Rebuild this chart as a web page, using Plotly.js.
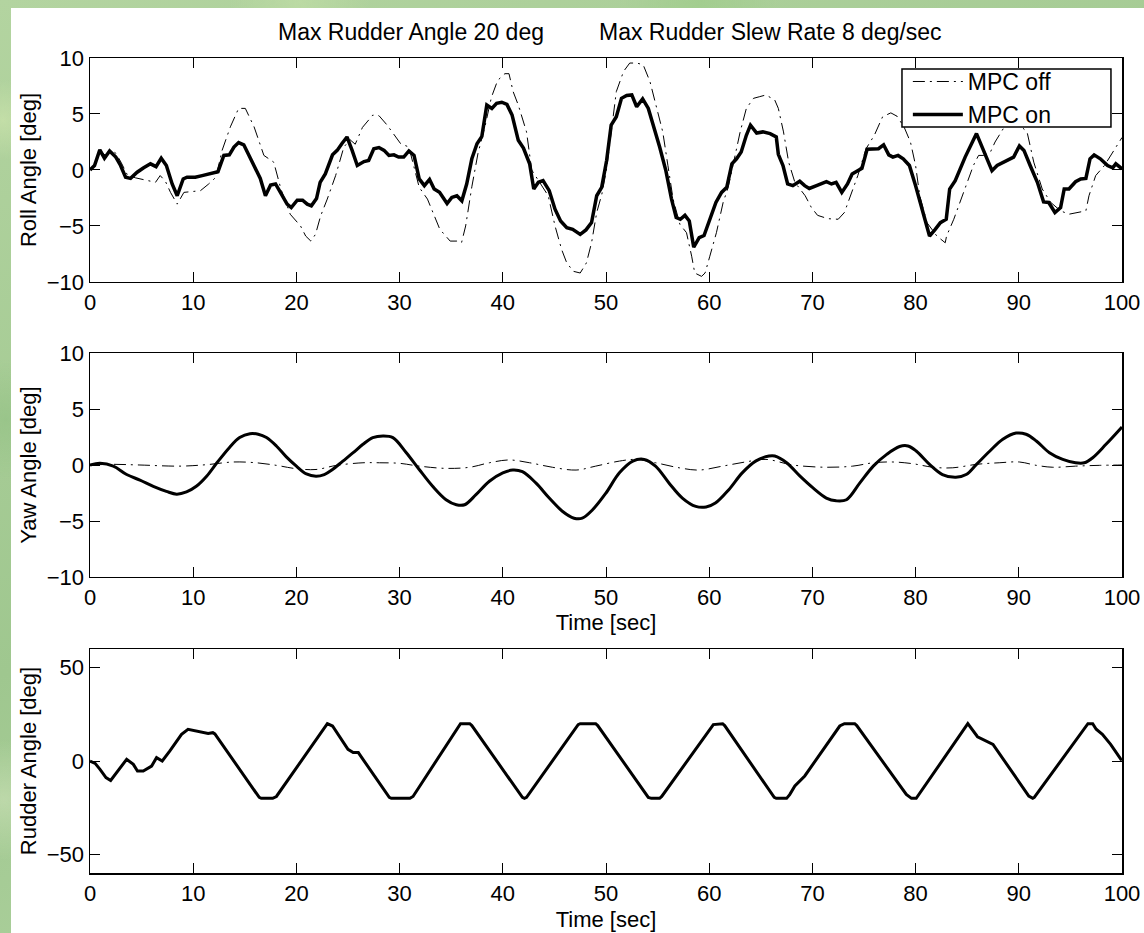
<!DOCTYPE html>
<html>
<head>
<meta charset="utf-8">
<script src="https://cdn.plot.ly/plotly-3.0.1.min.js"></script>
<style>
  html, body { margin: 0; padding: 0; width: 1144px; height: 933px; overflow: hidden; }
  body {
    background-color: #a9cd98;
    background-image:
      radial-gradient(circle at 3px 120px, rgba(200,225,170,0.8) 0, rgba(200,225,170,0) 40px),
      radial-gradient(circle at 6px 420px, rgba(150,195,135,0.8) 0, rgba(150,195,135,0) 60px),
      radial-gradient(circle at 300px 2px, rgba(190,220,165,0.8) 0, rgba(190,220,165,0) 70px),
      radial-gradient(circle at 700px 3px, rgba(160,205,140,0.8) 0, rgba(160,205,140,0) 80px),
      radial-gradient(circle at 4px 800px, rgba(195,220,175,0.8) 0, rgba(195,220,175,0) 60px),
      linear-gradient(160deg, #b3d4a0, #9fc78f 50%, #b6d7a6);
  }
  #chart { position: absolute; left: 11px; top: 8px; width: 1134px; height: 925px; background: #fff; }
</style>
</head>
<body>
<div id="chart"></div>
<script>
// ---------------- Data ----------------
const rollTimeOn = [0,0.44,0.95,1.4,1.9,2.5,2.96,3.45,3.93,4.57,5.2,5.86,6.4,6.9,7.4,7.96,8.45,9.03,9.4,10.2,10.87,11.7,12.4,12.97,13.5,13.95,14.4,14.9,15.55,16.05,16.5,17.0,17.5,17.98,18.6,19.1,19.5,20.08,20.6,21.05,21.45,21.95,22.3,22.8,23.5,23.95,24.4,24.9,25.4,25.9,26.55,27.0,27.5,28.0,28.5,28.97,29.45,29.9,30.4,30.9,31.4,31.9,32.4,32.9,33.35,33.87,34.6,35.06,35.55,36.03,36.5,37.0,37.5,37.97,38.45,38.94,39.4,39.9,40.4,40.9,41.5,42.0,42.6,43.0,43.45,43.9,44.5,45.06,45.6,46.2,46.77,47.5,48.06,48.6,49.1,49.58,50.06,50.5,51.0,51.5,52.0,52.5,52.97,53.55,54.1,54.6,55.2,55.8,56.35,56.8,57.2,57.65,58.07,58.5,59.03,59.5,60.06,60.65,61.2,61.7,62.2,62.65,63.1,63.6,64.0,64.6,65.2,65.9,66.5,66.7,67.15,67.6,68.1,68.77,69.25,69.7,70.4,71.36,71.85,72.3,72.85,73.4,73.85,74.8,75.3,75.9,76.4,76.9,77.4,77.8,78.3,78.8,79.4,80.0,80.76,81.35,81.9,82.4,82.97,83.3,83.84,84.8,85.9,86.6,87.4,87.9,88.9,89.5,90.06,90.5,91.1,91.8,92.4,92.9,93.5,94.05,94.4,94.86,95.5,96.0,96.5,96.9,97.3,97.9,98.6,99.1,99.4,99.9,100];
const rollOn = [0,0.4,1.8,1.05,1.7,1.15,0.4,-0.65,-0.75,-0.2,0.2,0.55,0.3,1.05,0.4,-1.25,-2.3,-0.8,-0.65,-0.65,-0.5,-0.27,-0.15,1.3,1.35,2.05,2.45,2.25,1.0,0.1,-0.75,-2.3,-1.35,-1.25,-2.3,-3.05,-3.35,-2.7,-2.7,-3.05,-3.2,-2.55,-1.1,-0.35,1.35,1.75,2.35,2.95,1.75,0.4,0.75,0.85,1.9,2.0,1.75,1.3,1.35,1.15,1.15,1.7,1.3,-0.8,-1.4,-0.85,-1.7,-2.0,-3.0,-2.45,-2.3,-2.75,-1.25,1.0,2.35,3.0,5.8,5.5,5.95,6.05,5.85,4.9,2.65,1.95,0.55,-1.7,-1.1,-0.95,-1.85,-3.5,-4.55,-5.15,-5.3,-5.75,-5.35,-4.7,-2.3,-1.55,0.85,4.0,4.75,6.4,6.65,6.7,5.65,6.35,5.5,4.0,2.05,-0.06,-2.6,-4.25,-4.4,-4.05,-4.55,-6.9,-6.05,-5.85,-4.4,-2.9,-2.0,-1.55,0.55,1.0,1.6,3.1,4.0,3.3,3.4,3.25,2.95,1.4,0.4,-1.25,-1.4,-1.0,-1.4,-1.65,-1.4,-1.05,-1.25,-1.1,-2.0,-1.25,-0.35,0.15,1.85,1.85,1.9,2.25,1.35,1.15,1.3,1.0,0.4,-1.4,-4.1,-5.9,-5.3,-4.7,-4.4,-1.7,-0.95,1.15,3.25,1.75,-0.06,0.4,0.85,1.15,2.15,1.75,0.4,-1.1,-2.85,-2.9,-3.8,-3.35,-1.7,-1.7,-1.05,-0.8,-0.75,1.0,1.35,1.0,0.4,0.2,0.55,0.1,0.1];

const rollTimeOff = [0,0.5,1.0,1.5,2.0,2.5,3.0,3.6,4.4,5.2,6.35,6.8,7.3,7.8,8.45,9.1,9.75,10.7,11.5,12.2,12.8,13.6,14.4,15.05,15.9,16.85,17.8,18.5,19.4,20.4,20.9,21.4,21.85,22.35,22.99,23.8,24.6,25.2,25.7,26.4,27.4,28.0,28.8,30.1,30.9,31.9,32.7,33.6,33.9,34.9,35.55,36.0,36.4,37.0,37.6,38.3,38.9,39.5,40.2,40.6,41.0,41.5,42.3,42.8,44.4,45.06,45.7,46.2,46.84,47.5,48.1,48.6,49.1,49.6,50.06,50.55,51.0,51.7,52.3,52.97,53.6,54.26,54.9,55.5,56.0,56.5,57.16,57.8,58.3,58.6,59.26,59.6,60.06,60.7,61.35,61.84,62.3,63.0,63.6,64.3,64.9,65.5,66.35,66.7,67.2,67.7,68.3,69.3,69.9,70.5,71.5,72.5,73.1,73.7,74.4,75.2,76.0,76.8,77.6,78.2,78.9,79.5,80.0,80.4,81.1,82.06,82.87,83.0,83.7,84.65,85.6,86.1,86.6,87.25,87.7,88.5,89.3,90.2,90.8,91.45,92.27,93.1,94.05,94.86,95.67,96.5,96.8,97.45,98.3,98.9,99.9,100];
const rollOff = [0,0.5,1.7,1.3,1.8,1.5,0.7,-0.4,-0.7,-0.87,-1.1,-0.5,-1.0,-2.0,-3.05,-2.0,-1.95,-1.85,-1.25,-0.65,1.75,3.85,5.5,5.5,3.85,1.3,0.7,-1.7,-3.95,-5.0,-5.9,-6.35,-5.75,-4.1,-2.6,-0.5,2.05,2.7,2.3,3.8,4.9,4.85,4.0,2.35,2.05,-1.55,-2.6,-4.55,-5.3,-6.35,-6.35,-6.5,-5.0,-1.5,1.5,4.0,6.5,8.0,8.6,8.6,7.0,5.8,3.4,0.0,-2.3,-5.0,-7.1,-8.3,-9.05,-9.2,-8.3,-6.5,-3.8,-2.15,0.1,3.7,7.0,8.8,9.55,9.55,9.4,7.9,5.5,3.4,0.4,-2.6,-4.85,-5.6,-7.7,-9.2,-9.5,-9.2,-7.7,-5.6,-2.9,-1.55,0.4,3.4,5.5,6.4,6.55,6.7,6.25,5.5,3.4,0.7,-1.1,-2.3,-3.35,-4.05,-4.35,-4.4,-3.8,-2.3,-0.5,1.9,3.1,4.75,5.1,4.8,3.8,2.5,0.4,-2.3,-4.7,-5.9,-6.5,-5.9,-4.4,-2.0,0.4,1.3,1.3,1.6,2.5,3.7,4.1,3.9,3.4,0.7,-1.7,-2.9,-3.65,-3.95,-3.8,-3.65,-2.3,-0.5,0.4,1.3,2.8,2.9];

const yawTimeOn = [0,0.97,2.26,3.55,4.84,6.13,7.4,8.4,9.35,10.3,11.3,12.3,13.5,14.5,15.5,16.3,17.1,18.06,19.0,20.0,20.97,21.9,22.7,23.5,24.5,25.5,26.45,27.4,28.4,29.35,30.65,31.9,33.2,34.5,35.5,36.3,37.4,38.7,40.0,40.97,41.9,43.2,44.5,45.8,46.9,47.7,48.7,50.0,51.3,52.6,53.7,54.8,56.1,57.4,58.7,59.7,60.6,61.9,63.2,64.5,65.8,66.35,67.5,68.8,70.06,71.35,72.3,73.3,74.6,75.9,77.2,78.45,79.26,80.06,81.35,82.6,83.9,84.9,85.9,87.2,88.45,89.74,90.7,91.7,92.97,94.26,95.5,96.35,97.16,98.45,100];
const yawOn = [0,0.15,-0.1,-0.85,-1.35,-1.9,-2.35,-2.6,-2.4,-1.9,-1.0,0.2,1.55,2.45,2.8,2.75,2.45,1.7,0.75,-0.1,-0.8,-1.0,-0.85,-0.4,0.35,1.1,1.85,2.45,2.6,2.45,1.1,-0.4,-1.9,-3.1,-3.55,-3.55,-2.65,-1.45,-0.7,-0.45,-0.6,-1.6,-2.95,-4.15,-4.75,-4.75,-4.0,-2.5,-0.7,0.35,0.5,-0.1,-1.6,-2.95,-3.7,-3.75,-3.4,-2.2,-0.7,0.35,0.8,0.8,0.2,-1.0,-2.05,-2.95,-3.2,-3.1,-1.6,-0.1,0.95,1.65,1.7,1.25,0.06,-0.85,-1.1,-0.85,0.06,1.25,2.3,2.85,2.75,2.15,1.1,0.5,0.2,0.2,0.65,1.85,3.4];

const yawTimeOff = [0,2.26,4.84,8.7,11.3,13.9,16.1,18.06,20.0,21.9,23.9,26.45,28.06,30.0,31.9,34.5,36.8,38.7,40.6,42.6,44.8,47.1,49.0,51.3,52.9,54.8,57.1,59.0,61.3,63.5,65.5,68.1,71.35,73.9,75.9,77.8,79.7,81.7,83.6,85.9,88.1,90.06,91.7,93.3,95.5,97.8,100];
const yawOff = [0,0.06,0,-0.1,0.03,0.27,0.2,-0.03,-0.33,-0.4,-0.03,0.2,0.2,0.15,-0.1,-0.3,-0.2,0.2,0.45,0.2,-0.2,-0.45,-0.1,0.35,0.5,0.2,-0.25,-0.45,-0.1,0.27,0.5,0,-0.2,-0.1,0.2,0.27,0.12,-0.2,-0.25,0.06,0.2,0.27,-0.03,-0.2,-0.1,-0.03,0];

const rudderTime = [0,0.5,0.97,1.55,2.0,2.6,3.55,4.2,4.6,5.16,5.97,6.45,7.0,7.74,8.87,9.5,10.3,11.45,11.9,12.1,16.4,16.6,17.7,18.06,23.0,23.5,25.0,25.5,26.0,29.0,29.2,31.0,31.3,35.9,36.8,37.0,41.9,42.1,42.3,47.3,47.5,49.0,49.2,54.1,54.4,55.2,55.4,60.4,61.3,61.5,66.3,66.5,67.5,67.8,68.3,68.8,69.26,72.65,73.1,74.1,74.3,79.1,79.6,80.06,85.06,86.0,86.5,87.5,90.97,91.35,91.5,96.7,97.16,97.5,98.1,98.9,99.9,100];
const rudderOn = [0,-1.25,-4.5,-8.9,-10.4,-6.25,0.9,-1.8,-5.4,-5.4,-2.7,1.8,0,5.4,14.3,17.0,16.1,14.8,15.2,14.5,-19.5,-20,-20,-19,20,18.75,6.25,4.5,4.5,-19.5,-20,-20,-19,20,20,19,-19.5,-20,-19.5,19.5,20,20,19,-19.5,-20,-20,-19,19.5,20,19,-19.5,-20,-20,-18,-13.4,-10.7,-8,18.75,20,20,19,-17.9,-20,-20,20,13,11.6,8.9,-18.75,-20,-19.5,20,20,17,14.3,8.9,0.9,0.5];

const xTicks = [0,10,20,30,40,50,60,70,80,90,100];
const angleTicks = [-10,-5,0,5,10];
const rudderTicks = [-50,0,50];

const titleLeft = 'Max Rudder Angle 20 deg';
const titleRight = 'Max Rudder Slew Rate 8 deg/sec';
const nameOff = 'MPC off';
const nameOn = 'MPC on';

// ---------------- Styling ----------------
const FONT = '"Liberation Sans", Arial, Helvetica, sans-serif';
const FS = 22;
const offLine = { color: '#000', width: 1, dash: '12px,5px,2px,5px' };
const onLine = { color: '#000', width: 3.5 };

const traces = [
  { x: rollTimeOff, y: rollOff, xaxis: 'x', yaxis: 'y', mode: 'lines', name: nameOff, line: offLine },
  { x: rollTimeOn, y: rollOn, xaxis: 'x', yaxis: 'y', mode: 'lines', name: nameOn, line: onLine },
  { x: yawTimeOff, y: yawOff, xaxis: 'x2', yaxis: 'y2', mode: 'lines', name: nameOff, line: Object.assign({}, offLine, {shape: 'spline'}), showlegend: false },
  { x: yawTimeOn, y: yawOn, xaxis: 'x2', yaxis: 'y2', mode: 'lines', name: nameOn, line: Object.assign({}, onLine, {shape: 'spline', width: 3}), showlegend: false },
  { x: rudderTime, y: rudderOn, xaxis: 'x3', yaxis: 'y3', mode: 'lines', name: nameOn, line: Object.assign({}, onLine, {width: 3}), showlegend: false }
];

function xAx(anchor, titleText, standoff) {
  const a = {
    anchor: anchor, domain: [0, 1], range: [0, 100],
    tickvals: xTicks, ticktext: xTicks.map(String),
    showline: true, mirror: 'ticks', linecolor: '#000', linewidth: 1.5,
    ticks: 'inside', ticklen: 10, tickwidth: 1, tickcolor: '#000',
    showgrid: false, zeroline: false, fixedrange: true,
    tickfont: { family: FONT, size: FS, color: '#000' }
  };
  if (titleText) a.title = { text: titleText, font: { family: FONT, size: FS, color: '#000' }, standoff: standoff };
  return a;
}
function yAx(anchor, domain, range, ticks, titleText) {
  return {
    anchor: anchor, domain: domain, range: range,
    tickvals: ticks,
    showline: true, mirror: 'ticks', linecolor: '#000', linewidth: 1.5,
    ticks: 'inside', ticklen: 10, tickwidth: 1, tickcolor: '#000',
    showgrid: false, zeroline: false, fixedrange: true,
    tickfont: { family: FONT, size: FS, color: '#000' },
    title: { text: titleText, font: { family: FONT, size: FS, color: '#000' }, standoff: 4 }
  };
}

const layout = {
  width: 1134, height: 925,
  margin: { l: 79, r: 23, t: 50, b: 60 },
  paper_bgcolor: '#fff', plot_bgcolor: '#fff',
  font: { family: FONT, size: FS, color: '#000' },
  showlegend: true,
  legend: {
    x: 0.7925, y: 0.9975, xanchor: 'left', yanchor: 'top',
    bgcolor: 'rgba(255,255,255,0)', borderwidth: 0,
    font: { family: FONT, size: 23, color: '#000' },
    tracegroupgap: 0, itemwidth: 50
  },
  shapes: [
    { type: 'rect', xref: 'paper', yref: 'paper', x0: 0.7868, x1: 0.9893, y0: 0.9153, y1: 0.9865,
      layer: 'above', fillcolor: '#fff', line: { color: '#000', width: 1.5 } }
  ],
  xaxis: xAx('y', null),
  yaxis: yAx('x', [0.7252, 1], [-10, 10], angleTicks, 'Roll Angle [deg]'),
  xaxis2: xAx('y2', 'Time [sec]', 2),
  yaxis2: yAx('x2', [0.3632, 0.638], [-10, 10], angleTicks, 'Yaw Angle [deg]'),
  xaxis3: xAx('y3', 'Time [sec]', 6),
  yaxis3: yAx('x3', [0, 0.2748], [-60, 60], rudderTicks, 'Rudder Angle [deg]'),
  annotations: [
    { text: titleLeft, xref: 'paper', yref: 'paper', x: 0.311, y: 1.032, xanchor: 'center', yanchor: 'middle', showarrow: false, font: { family: FONT, size: 23, color: '#000' } },
    { text: titleRight, xref: 'paper', yref: 'paper', x: 0.659, y: 1.032, xanchor: 'center', yanchor: 'middle', showarrow: false, font: { family: FONT, size: 23, color: '#000' } }
  ]
};

Plotly.newPlot('chart', traces, layout, { displayModeBar: false, staticPlot: true });
</script>
</body>
</html>
